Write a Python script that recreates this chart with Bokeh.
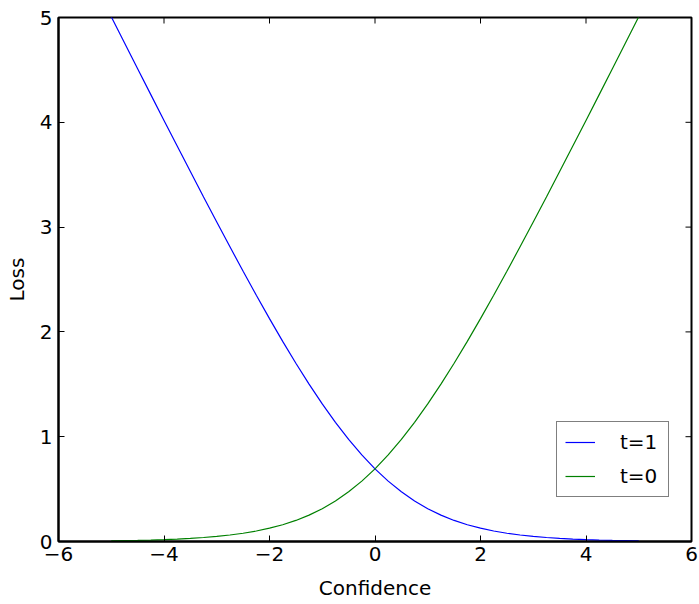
import math
from bokeh.plotting import figure
from bokeh.models import LinearAxis, Range1d, Legend, LegendItem, FixedTicker
from bokeh.embed import file_html
from bokeh.resources import INLINE

# Logistic loss against model confidence, for targets t=1 and t=0
confidence = [-5.0, -4.75, -4.5, -4.25, -4.0, -3.75, -3.5, -3.25, -3.0, -2.75,
              -2.5, -2.25, -2.0, -1.75, -1.5, -1.25, -1.0, -0.75, -0.5, -0.25,
              0.0, 0.25, 0.5, 0.75, 1.0, 1.25, 1.5, 1.75, 2.0, 2.25,
              2.5, 2.75, 3.0, 3.25, 3.5, 3.75, 4.0, 4.25, 4.5, 4.75, 5.0]
loss_t1 = [5.007, 4.759, 4.511, 4.264, 4.018, 3.773, 3.530, 3.288, 3.049, 2.812,
           2.579, 2.350, 2.127, 1.910, 1.701, 1.502, 1.313, 1.137, 0.974, 0.826,
           0.693, 0.576, 0.474, 0.387, 0.313, 0.252, 0.201, 0.160, 0.127, 0.100,
           0.079, 0.062, 0.049, 0.038, 0.030, 0.023, 0.018, 0.014, 0.011, 0.009, 0.007]
loss_t0 = [0.007, 0.009, 0.011, 0.014, 0.018, 0.023, 0.030, 0.038, 0.049, 0.062,
           0.079, 0.100, 0.127, 0.160, 0.201, 0.252, 0.313, 0.387, 0.474, 0.576,
           0.693, 0.826, 0.974, 1.137, 1.313, 1.502, 1.701, 1.910, 2.127, 2.350,
           2.579, 2.812, 3.049, 3.288, 3.530, 3.773, 4.018, 4.264, 4.511, 4.759, 5.007]

x_ticks = [-6, -4, -2, 0, 2, 4, 6]
y_ticks = [0, 1, 2, 3, 4, 5]
x_tick_labels = {-6: "\u22126", -4: "\u22124", -2: "\u22122", 0: "0", 2: "2", 4: "4", 6: "6"}

X_MIN, X_MAX = -6, 6
Y_MIN, Y_MAX = 0, 5

FONT = "DejaVu Sans"
FS = "20px"

p = figure(width=699, height=604, output_backend="svg", toolbar_location=None,
           x_range=Range1d(X_MIN, X_MAX), y_range=Range1d(Y_MIN, Y_MAX),
           x_axis_location=None, y_axis_location=None,
           min_border_left=58, min_border_right=8, min_border_top=17, min_border_bottom=63)
p.xgrid.visible = False
p.ygrid.visible = False
p.outline_line_color = "black"
p.outline_line_width = 2
p.background_fill_color = "white"
p.border_fill_color = "white"


def style(axis, ticks):
    axis.ticker = FixedTicker(ticks=ticks)
    axis.minor_tick_line_color = None
    axis.major_tick_in = 6
    axis.major_tick_out = 0
    axis.major_tick_line_color = "black"
    axis.axis_line_color = "black"
    axis.axis_line_width = 2
    axis.major_label_text_font = FONT
    axis.major_label_text_font_size = FS
    axis.major_label_text_color = "black"
    axis.axis_label_text_font = FONT
    axis.axis_label_text_font_size = FS
    axis.axis_label_text_font_style = "normal"
    axis.axis_label_text_color = "black"


xb = LinearAxis(axis_label="Confidence")
style(xb, x_ticks)
xb.major_label_overrides = x_tick_labels
xb.major_label_standoff = 5
xb.axis_label_standoff = 12
p.add_layout(xb, "below")

yl = LinearAxis(axis_label="Loss")
style(yl, y_ticks)
yl.major_label_standoff = 6
yl.axis_label_standoff = 8
p.add_layout(yl, "left")

# inward tick marks mirrored on the top and right edges of the frame
p.ray(x=x_ticks, y=[Y_MAX] * len(x_ticks), length=6, length_units="screen",
      angle=-math.pi / 2, line_color="black", line_width=1)
p.ray(x=[X_MAX] * len(y_ticks), y=y_ticks, length=6, length_units="screen",
      angle=math.pi, line_color="black", line_width=1)

r1 = p.line(confidence, loss_t1, line_color="#0000ff", line_width=1.2)
r0 = p.line(confidence, loss_t0, line_color="#008000", line_width=1.2)

legend = Legend(items=[LegendItem(label="t=1", renderers=[r1]),
                       LegendItem(label="t=0", renderers=[r0])],
                location=(498, 44), orientation="vertical",
                border_line_color="black", border_line_width=1.5,
                background_fill_color="white", background_fill_alpha=1,
                label_text_font=FONT, label_text_font_size=FS,
                label_text_color="black",
                glyph_width=30, glyph_height=22, label_height=22, label_width=40,
                label_standoff=25, spacing=10, padding=8, margin=0)
p.add_layout(legend, "center")

open("out.html", "w").write(file_html(p, INLINE))
